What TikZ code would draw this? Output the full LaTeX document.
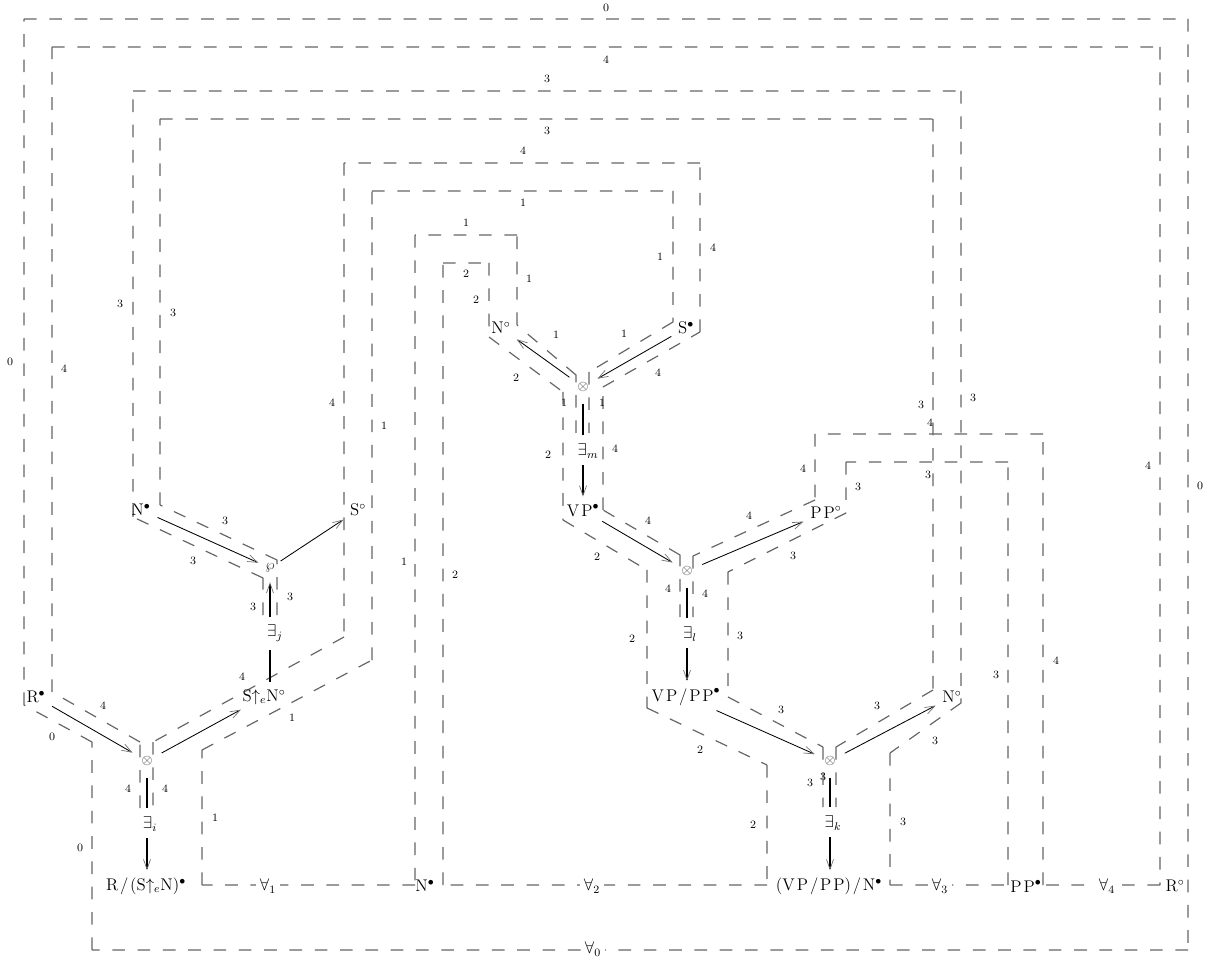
\documentclass[tikz,border=0pt]{standalone}
\usepackage{amsmath}
\usepackage{amssymb}
\usetikzlibrary{arrows.meta}
\newcommand{\lsp}{\mkern2mu}
\tikzset{
    contour/.style={draw=black!60, line width=0.85pt, dash pattern=on 9pt off 9pt,
                    to path={(\tikztostart) -- (\tikztotarget)}},
    ax/.style={line width=0.6pt, shorten >=3pt, shorten <=3pt,
               -{Straight Barb[length=7pt, width=5pt, line width=0.5pt, color=black!55]}},
    exl/.style={line width=1.6pt, shorten <=3pt, shorten >=4pt},
    exla/.style={exl, -{Straight Barb[length=7pt, width=5pt, line width=0.5pt, color=black!55]}},
    exa/.style={ax, line width=0.9pt},
    fml/.style={font=\large, inner sep=2pt},
    tens/.style={circle, inner sep=2.5pt, text=black!85},
    qnt/.style={font=\large, inner sep=2pt},
    univ/.style={font=\large, fill=white, inner sep=3pt},
    num/.style={font=\footnotesize, inner sep=0.5pt},
}
\begin{document}
\begin{tikzpicture}[x=0.025cm, y=-0.025cm]
    \useasboundingbox (0,0) rectangle (1205,964);
    \draw[contour] (24,705) to (24,19) to (1188,19) to (1188,950) to (92,950) to (92,742) to (24,705);
    \draw[contour] (140,808) to (140,742) to (52,692) to (52,47) to (1160,47) to (1160,885)
        to (1043,885) to (1043,434) to (815,434) to (815,500) to (693,556) to (693,617);
    \draw[contour] (680,617) to (680,555) to (603,510) to (603,387) to (700,332) to (700,163)
        to (344,163) to (344,637) to (153,742) to (153,808);
    \draw[contour] (263,615) to (263,578) to (133,517) to (133,91) to (961,91) to (961,703)
        to (890,753) to (890,885) to (1008,885) to (1008,462) to (846,462) to (846,513)
        to (728,572) to (728,697) to (823,747) to (823,807);
    \draw[contour] (277,615) to (277,560) to (160,505) to (160,119) to (933,119) to (933,690)
        to (836,747) to (836,807);
    \draw[contour] (576,433) to (576,375) to (517,325) to (517,235) to (415,235) to (415,885)
        to (202,885) to (202,750) to (372,660) to (372,191) to (673,191) to (673,322)
        to (589,372) to (589,433);
    \draw[contour] (443,885) to (443,263) to (489,263) to (489,337) to (563,392) to (563,520)
        to (647,570) to (647,708) to (767,765) to (767,885) to (443,885);

    \node[fml] (r) at (36,697) {$\mathrm{R}^{\bullet}$};
    \node[tens] (ti) at (147,761) {$\otimes$};
    \node[qnt] (ei) at (150,824) {$\exists_i$};
    \node[fml] (ri) at (146,886) {$\mathrm{R}\lsp/\lsp(\mathrm{S}{\uparrow_e}\mathrm{N})^{\bullet}$};
    \node[fml] (sen) at (264,697) {$\mathrm{S}{\uparrow_e}\mathrm{N}^{\circ}$};
    \node[qnt] (ej) at (275,633) {$\exists_j$};
    \node[tens, inner sep=1pt] (pj) at (270,568) {$\wp$};
    \node[fml] (nj) at (141,510) {$\mathrm{N}^{\bullet}$};
    \node[fml] (sj) at (358,510) {$\mathrm{S}^{\circ}$};
    \node[fml] (nm) at (501,328) {$\mathrm{N}^{\circ}$};
    \node[fml] (sm) at (686,328) {$\mathrm{S}^{\bullet}$};
    \node[tens] (tm) at (583,387) {$\otimes$};
    \node[qnt] (em) at (588,451) {$\exists_m$};
    \node[fml] (vp) at (583,510) {$\mathrm{V\lsp P}^{\bullet}$};
    \node[tens] (tl) at (687,571) {$\otimes$};
    \node[fml] (pp) at (826,512) {$\mathrm{P\lsp P}^{\circ}$};
    \node[qnt] (el) at (690,634) {$\exists_l$};
    \node[fml] (vpp) at (686,697) {$\mathrm{V\lsp P\lsp/\lsp P\lsp P}^{\bullet}$};
    \node[tens] (tk) at (830,761) {$\otimes$};
    \node[fml] (nk) at (952,697) {$\mathrm{N}^{\circ}$};
    \node[qnt] (ek) at (833,823) {$\exists_k$};
    \node[fml] (vppn) at (829,886) {$(\mathrm{V\lsp P\lsp/\lsp P\lsp P})\lsp/\lsp\mathrm{N}^{\bullet}$};
    \node[fml] (nb) at (425,886) {$\mathrm{N}^{\bullet}$};
    \node[fml] (ppb) at (1026,886) {$\mathrm{P\lsp P}^{\bullet}$};
    \node[fml] (ro) at (1175,886) {$\mathrm{R}^{\circ}$};
    \node[univ] (a0) at (593,949) {$\forall_0$};
    \node[univ] (a1) at (268,886) {$\forall_1$};
    \node[univ] (a2) at (592,886) {$\forall_2$};
    \node[univ] (a3) at (940,886) {$\forall_3$};
    \node[univ] (a4) at (1107,886) {$\forall_4$};

    \foreach \px/\py/\lab [count=\i] in {606/8/0, 10/362/0, 1200/486/0, 52/737/0, 80/848/0,
        606/60/4, 64/369/4, 103/706/4, 128/789/4, 1148/466/4, 1056/661/4, 930/423/4,
        803/469/4, 749/516/4, 705/594/4, 523/151/4, 713/248/4, 658/373/4, 615/449/4,
        648/521/4, 668/589/4, 332/403/4, 242/677/4, 165/789/4,
        547/79/3, 120/304/3, 193/561/3, 253/607/3, 973/398/3, 935/741/3, 903/822/3,
        996/675/3, 858/487/3, 793/556/3, 740/636/3, 781/710/3, 810/783/3, 547/131/3,
        173/313/3, 225/521/3, 290/597/3, 921/405/3, 928/475/3, 877/706/3, 823/777/3,
        523/203/1, 384/426/1, 292/718/1, 215/818/1, 404/562/1, 466/223/1, 529/279/1,
        556/335/1, 564/403/1, 602/403/1, 624/334/1, 660/257/1,
        466/274/2, 476/300/2, 455/575/2, 516/378/2, 548/455/2, 597/557/2, 632/639/2,
        700/750/2, 753/825/2}
        \node[num] (lb\i) at (\px,\py) {\lab};

    \draw[ax] (r) -- (ti);
    \draw[ax] (ti) -- (sen);
    \draw[exl] (ti) -- (ti |- ei.north);
    \draw[exa] (ti |- ei.south) -- (ti |- ri.north);
    \draw[ax] (nj) -- (pj);
    \draw[ax] (pj) -- (sj);
    \draw[exl] (pj |- sen.north) -- (pj |- ej.south);
    \draw[exla] (pj |- ej.north) -- (pj);
    \draw[ax] (tm) -- (nm);
    \draw[ax] (sm) -- (tm);
    \draw[exl] (tm) -- (tm |- em.north);
    \draw[exa] (tm |- em.south) -- (tm |- vp.north);
    \draw[ax] (vp) -- (tl);
    \draw[ax] (tl) -- (pp);
    \draw[exl] (tl) -- (tl |- el.north);
    \draw[exa] (tl |- el.south) -- (tl |- vpp.north);
    \draw[ax] (vpp) -- (tk);
    \draw[ax] (tk) -- (nk);
    \draw[exl] (tk) -- (tk |- ek.north);
    \draw[exa] (tk |- ek.south) -- (tk |- vppn.north);
\end{tikzpicture}
\end{document}
